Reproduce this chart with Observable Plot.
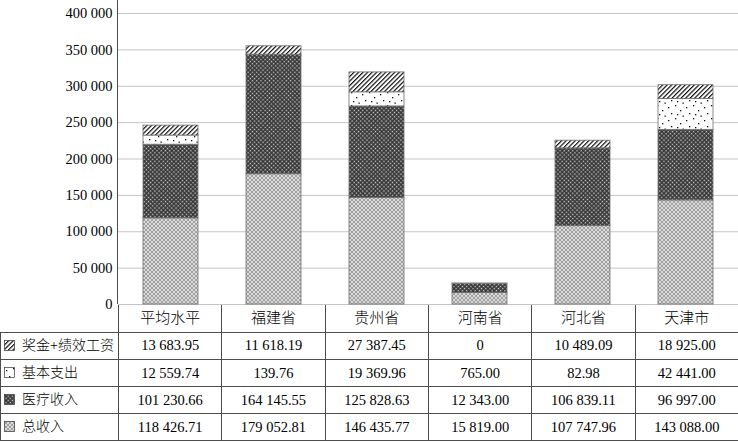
<!DOCTYPE html>
<html><head><meta charset="utf-8">
<script src="https://cdn.jsdelivr.net/npm/d3@7"></script>
<script src="https://cdn.jsdelivr.net/npm/@observablehq/plot@0.6"></script>
<style>
body{margin:0;background:#fff;}
#chart svg{display:block}
table{border-collapse:collapse;table-layout:fixed;width:738px;font-family:"Liberation Serif","Noto Sans CJK SC",serif;font-size:14.5px;color:#000;font-weight:300}
td{border:1px solid #4d4d4d;text-align:center;padding:0;height:26.2px;line-height:1;white-space:nowrap}
tr.head td{height:26.5px;font-size:15px}
td.blank{border-top:none;border-left:none}
td.lab{text-align:left;font-size:14px}
td.lab svg{vertical-align:-1px;margin-left:3px;margin-right:7px}
</style></head>
<body><div id="chart"></div><table id="tbl"></table>
<script>
const categories = ["平均水平","福建省","贵州省","河南省","河北省","天津市"];
const seriesNames = ["总收入","医疗收入","基本支出","奖金+绩效工资"];
const totalIncome = [118426.71, 179052.81, 146435.77, 15819.00, 107747.96, 143088.00];
const medicalIncome = [101230.66, 164145.55, 125828.63, 12343.00, 106839.11, 96997.00];
const basicExpense = [12559.74, 139.76, 19369.96, 765.00, 82.98, 42441.00];
const bonusPay = [13683.95, 11618.19, 27387.45, 0, 10489.09, 18925.00];
const yTicks = [0, 50000, 100000, 150000, 200000, 250000, 300000, 350000, 400000];
const tableOrder = [3, 2, 1, 0];

const seriesValues = [totalIncome, medicalIncome, basicExpense, bonusPay];
const patternIds = ["pTotal", "pMed", "pBasic", "pBonus"];
const loc = d3.formatLocale({decimal: ".", thousands: " ", grouping: [3], currency: ["", ""]});
const fmtTick = loc.format(",d");
const fmt2 = loc.format(",.2f");
const fmtVal = v => v === 0 ? "0" : fmt2(v);

const rows = seriesNames.flatMap((s, i) => categories.map((c, j) => ({cat: c, series: s, value: seriesValues[i][j]})));

const plot = Plot.plot({
  width: 738, height: 304,
  marginLeft: 118, marginRight: 0, marginTop: 13, marginBottom: 0,
  style: {fontFamily: '"Liberation Serif","Noto Sans CJK SC",serif', fontSize: "14.5px", color: "#000", background: "#fff", overflow: "visible"},
  x: {domain: categories, paddingInner: 0.47, paddingOuter: 0.235, axis: null},
  y: {domain: [0, 400000], axis: null},
  color: {domain: seriesNames, range: patternIds.map(id => `url(#${id})`)},
  marks: [
    Plot.gridY({ticks: yTicks, stroke: "#c4c4c4", strokeOpacity: 1}),
    Plot.axisY({ticks: yTicks, tickSize: 0, tickPadding: 6, tickFormat: fmtTick, fontSize: 14.5, label: null}),
    Plot.barY(rows, {x: "cat", y: "value", fill: "series", stroke: "#6e6e6e", strokeWidth: 0.8})
  ]
});

d3.select(plot).insert("defs", ":first-child").html(`
<pattern id="pTotal" width="4" height="4" patternUnits="userSpaceOnUse">
  <rect width="4" height="4" fill="#dadada"/>
  <path d="M0,0L4,4M4,0L0,4" stroke="#8a8a8a" stroke-width="0.7"/>
</pattern>
<pattern id="pMed" width="3" height="3" patternUnits="userSpaceOnUse" patternTransform="rotate(45)">
  <rect width="3" height="3" fill="#333"/>
  <rect x="0.9" y="0.9" width="1.4" height="1.4" fill="#d4d4d4"/>
</pattern>
<pattern id="pBasic" width="18" height="13" patternUnits="userSpaceOnUse">
  <rect width="18" height="13" fill="#fff"/>
  <rect x="2" y="3" width="1.3" height="1.3" fill="#111"/>
  <rect x="9" y="1" width="1.3" height="1.3" fill="#111"/>
  <rect x="14" y="6" width="1.3" height="1.3" fill="#111"/>
  <rect x="5" y="9" width="1.3" height="1.3" fill="#111"/>
  <rect x="11" y="10" width="1.3" height="1.3" fill="#111"/>
  <rect x="16.5" y="11.5" width="1.3" height="1.3" fill="#111"/>
</pattern>
<pattern id="pBonus" width="3.2" height="3.2" patternUnits="userSpaceOnUse" patternTransform="rotate(45)">
  <rect width="3.2" height="3.2" fill="#fff"/>
  <line x1="0.6" y1="0" x2="0.6" y2="3.2" stroke="#111" stroke-width="1.2"/>
</pattern>`);

d3.select(plot).append("line")
  .attr("x1", 117.5).attr("x2", 117.5).attr("y1", 0).attr("y2", 304)
  .attr("stroke", "#4d4d4d").attr("stroke-width", 1);

document.getElementById("chart").appendChild(plot);

// data table (legend + values)
const tbl = d3.select("#tbl");
const cg = tbl.append("colgroup");
cg.append("col").style("width", "118px");
categories.forEach(() => cg.append("col").style("width", (620 / 6) + "px"));
const head = tbl.append("tr").attr("class", "head");
head.append("td").attr("class", "blank");
categories.forEach(c => head.append("td").text(c));
tableOrder.forEach(i => {
  const tr = tbl.append("tr");
  const lab = tr.append("td").attr("class", "lab");
  lab.html(`<svg width="11" height="11"><rect x="0.5" y="0.5" width="10" height="10" fill="url(#${patternIds[i]})" stroke="#333" stroke-width="0.7"/></svg>`);
  lab.append("span").text(seriesNames[i]);
  seriesValues[i].forEach(v => tr.append("td").text(fmtVal(v)));
});
</script></body></html>
